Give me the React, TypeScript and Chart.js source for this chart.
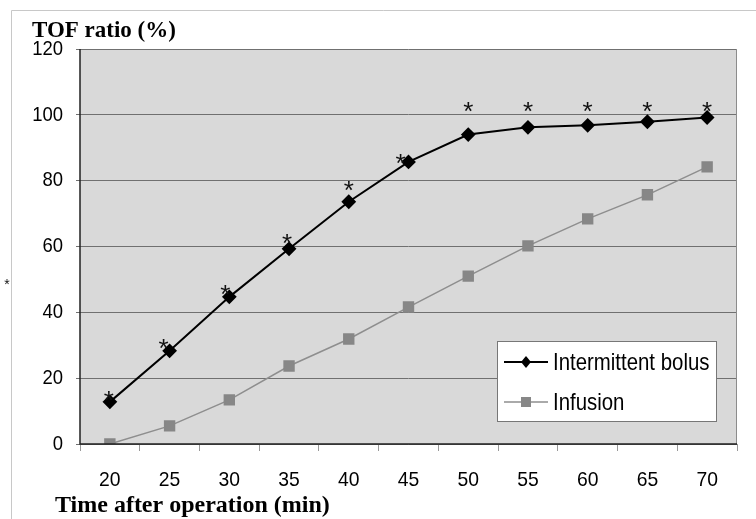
import React, { useEffect, useRef } from "react";
import { Chart, registerables } from "chart.js";

Chart.register(...registerables);

const categories = ["20", "25", "30", "35", "40", "45", "50", "55", "60", "65", "70"];
const bolusValues = [12.8, 28.3, 44.7, 59.3, 73.6, 85.7, 94.0, 96.2, 96.8, 97.9, 99.2];
const infusionValues = [0, 5.5, 13.4, 23.7, 31.9, 41.6, 51.0, 60.2, 68.4, 75.7, 84.2];
const starValues = [14.9, 30.7, 47.1, 62.6, 78.7, 87.0, 102.7, 102.7, 102.7, 102.7, 102.7];
const starShift = [-1, -6, -4, -2, 0, -8, 0, 0, 0, 0, 0];
const yTicks = [0, 20, 40, 60, 80, 100, 120];
const seriesNames = ["Intermittent bolus", "Infusion"];
const yTitle = "TOF ratio (%)";
const xTitle = "Time after operation (min)";

const SANS = '"Liberation Sans", Arial, sans-serif';
const SERIF = '"Liberation Serif", "Times New Roman", serif';
const NARROW = 0.88;

function narrowText(ctx: any, text: string, x: number, y: number, align: "left" | "right" | "center", scale: number) {
  const w = ctx.measureText(text).width * scale;
  let left = x;
  if (align === "right") left = x - w;
  else if (align === "center") left = x - w / 2;
  ctx.save();
  ctx.translate(left, y);
  ctx.scale(scale, 1);
  ctx.textAlign = "left";
  ctx.fillText(text, 0, 0);
  ctx.restore();
}

const decor = {
  id: "decor",
  beforeDraw(chart: any) {
    const { ctx, chartArea: a } = chart;
    ctx.save();
    ctx.fillStyle = "#ffffff";
    ctx.fillRect(0, 0, chart.width, chart.height);
    ctx.strokeStyle = "#c8c8c8";
    ctx.lineWidth = 1;
    ctx.beginPath();
    ctx.moveTo(11.5, chart.height);
    ctx.lineTo(11.5, 10.5);
    ctx.lineTo(chart.width, 10.5);
    ctx.stroke();
    ctx.fillStyle = "#d9d9d9";
    ctx.fillRect(a.left, a.top, a.right - a.left, a.bottom - a.top);
    ctx.restore();
  },
  afterDatasetsDraw(chart: any) {
    const { ctx, chartArea: a } = chart;
    const xs = chart.scales.x;
    const ys = chart.scales.y;
    ctx.save();
    ctx.strokeStyle = "#8c8c8c";
    ctx.lineWidth = 1;
    ctx.beginPath();
    ctx.moveTo(a.right - 0.5, a.top);
    ctx.lineTo(a.right - 0.5, a.bottom);
    ctx.stroke();
    ctx.strokeStyle = "#222";
    ctx.lineWidth = 1.5;
    ctx.beginPath();
    ctx.moveTo(a.left, a.top);
    ctx.lineTo(a.left, a.bottom);
    ctx.lineTo(a.right, a.bottom);
    ctx.stroke();

    // tick labels
    ctx.fillStyle = "#000";
    ctx.font = `21px ${SANS}`;
    ctx.textBaseline = "middle";
    ys.ticks.forEach((t: any, i: number) => {
      narrowText(ctx, String(t.value), 63, ys.getPixelForTick(i), "right", NARROW);
    });
    categories.forEach((c, i) => {
      narrowText(ctx, c, xs.getPixelForValue(i), 480, "center", 0.92);
    });

    // stars
    ctx.fillStyle = "#111";
    ctx.font = `26px ${SANS}`;
    ctx.textAlign = "center";
    ctx.textBaseline = "alphabetic";
    starValues.forEach((v, i) => {
      const x = xs.getPixelForValue(i) + starShift[i];
      const y = ys.getPixelForValue(v);
      ctx.fillText("*", x, y + 14);
    });
    ctx.font = `14px ${SANS}`;
    ctx.fillText("*", 7, 289);

    // titles
    ctx.fillStyle = "#000";
    ctx.textAlign = "left";
    ctx.textBaseline = "middle";
    ctx.font = `bold 23px ${SERIF}`;
    ctx.fillText(yTitle, 32, 31);
    ctx.font = `bold 24px ${SERIF}`;
    ctx.fillText(xTitle, 55, 506);

    // legend
    const lx = 497, ly = 341, lw = 219, lh = 80;
    ctx.fillStyle = "#ffffff";
    ctx.fillRect(lx, ly, lw, lh);
    ctx.strokeStyle = "#777";
    ctx.lineWidth = 1;
    ctx.strokeRect(lx + 0.5, ly + 0.5, lw, lh);
    const rows = [362, 402];
    const ds = chart.data.datasets;
    rows.forEach((ry, i) => {
      const d = ds[i];
      ctx.strokeStyle = d.borderColor;
      ctx.lineWidth = d.borderWidth;
      ctx.beginPath();
      ctx.moveTo(504, ry);
      ctx.lineTo(548, ry);
      ctx.stroke();
      ctx.fillStyle = d.pointBackgroundColor;
      ctx.beginPath();
      if (i === 0) {
        ctx.moveTo(526, ry - 6);
        ctx.lineTo(531, ry);
        ctx.lineTo(526, ry + 6);
        ctx.lineTo(521, ry);
        ctx.closePath();
      } else {
        ctx.rect(521, ry - 5, 10, 10);
      }
      ctx.fill();
      ctx.fillStyle = "#000";
      ctx.font = `24px ${SANS}`;
      ctx.textBaseline = "middle";
      narrowText(ctx, seriesNames[i], 553, ry + 1, "left", 0.85);
    });
    ctx.restore();
  },
};

export default function App() {
  const ref = useRef<HTMLCanvasElement>(null);
  useEffect(() => {
    const chart = new Chart(ref.current!, {
      type: "line",
      data: {
        labels: categories,
        datasets: [
          {
            label: seriesNames[0],
            data: bolusValues,
            borderColor: "#000000",
            backgroundColor: "#000000",
            pointBackgroundColor: "#000000",
            pointBorderColor: "#000000",
            borderWidth: 2,
            pointStyle: "rectRot",
            pointRadius: 6,
            tension: 0,
          },
          {
            label: seriesNames[1],
            data: infusionValues,
            borderColor: "#8e8e8e",
            backgroundColor: "#8a8a8a",
            pointBackgroundColor: "#878787",
            pointBorderColor: "#878787",
            borderWidth: 1.5,
            pointStyle: "rect",
            pointRadius: 7,
            tension: 0,
          },
        ],
      } as any,
      options: {
        animation: false,
        responsive: false,
        layout: { padding: { left: 0, right: 19, top: 49, bottom: 0 } },
        plugins: { legend: { display: false }, tooltip: { enabled: false }, title: { display: false } },
        scales: {
          x: {
            type: "category",
            offset: true,
            grid: { offset: true, drawOnChartArea: false, drawTicks: true, tickLength: 7, color: "#999" },
            border: { display: false },
            ticks: { display: false, autoSkip: false },
            afterFit: (s: any) => { s.height = 75; },
          },
          y: {
            min: 0,
            max: 120,
            afterBuildTicks: (s: any) => { s.ticks = yTicks.map((v) => ({ value: v })); },
            grid: { color: "#707070", lineWidth: 1, tickLength: 4, drawTicks: true },
            border: { display: false },
            ticks: { display: false },
            afterFit: (s: any) => { s.width = 80; },
          },
        },
      },
      plugins: [decor],
    });
    return () => chart.destroy();
  }, []);
  return (
    <div style={{ position: "absolute", left: 0, top: 0, width: 756, height: 519 }}>
      <canvas ref={ref} width={756} height={519} style={{ width: 756, height: 519, display: "block" }} />
    </div>
  );
}
